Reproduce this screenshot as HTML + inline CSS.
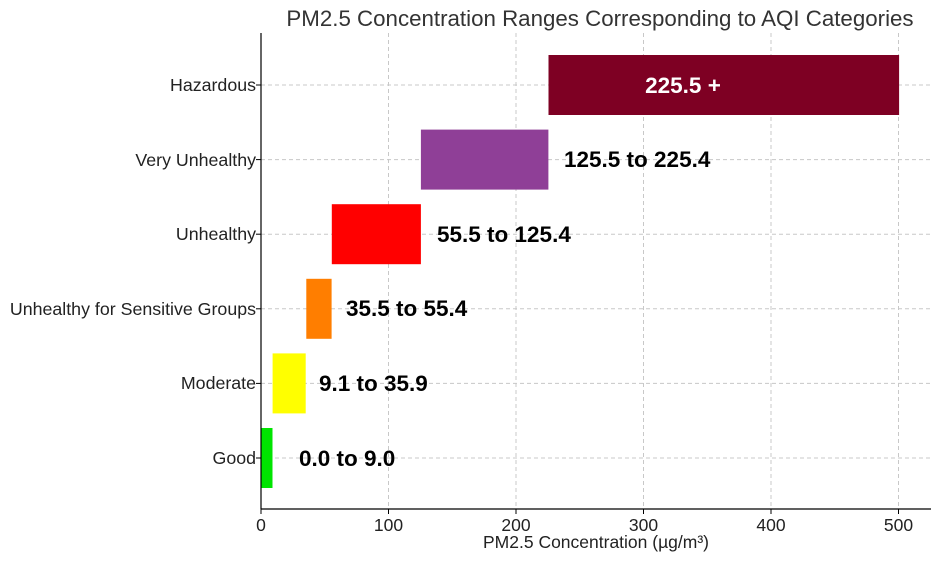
<!DOCTYPE html>
<html><head><meta charset="utf-8"><style>
body{margin:0;background:#fff;}
text{font-family:"Liberation Sans",sans-serif;}
</style></head><body>
<svg width="940" height="560" xmlns="http://www.w3.org/2000/svg">
<rect width="940" height="560" fill="#fff"/>
<g stroke="#c8c8c8" stroke-dasharray="4,3" stroke-width="1">
<line x1="388.5" y1="33" x2="388.5" y2="509"/>
<line x1="516" y1="33" x2="516" y2="509"/>
<line x1="643.5" y1="33" x2="643.5" y2="509"/>
<line x1="771" y1="33" x2="771" y2="509"/>
<line x1="898.5" y1="33" x2="898.5" y2="509"/>
<line x1="261" y1="458" x2="931" y2="458"/>
<line x1="261" y1="383.4" x2="931" y2="383.4"/>
<line x1="261" y1="308.8" x2="931" y2="308.8"/>
<line x1="261" y1="234.2" x2="931" y2="234.2"/>
<line x1="261" y1="159.6" x2="931" y2="159.6"/>
<line x1="261" y1="85" x2="931" y2="85"/>
</g>
<rect x="261" y="428" width="11.5" height="60" fill="#00e400"/>
<rect x="272.6" y="353.4" width="33.1" height="60" fill="#ffff00"/>
<rect x="306.3" y="278.8" width="25.3" height="60" fill="#ff7e00"/>
<rect x="331.8" y="204.2" width="89.1" height="60" fill="#ff0000"/>
<rect x="420.9" y="129.6" width="127.5" height="60" fill="#8f3f97"/>
<rect x="548.5" y="55" width="350.6" height="60" fill="#7e0023"/>
<g font-weight="bold" font-size="22.5">
<text x="299" y="466">0.0 to 9.0</text>
<text x="319" y="391">9.1 to 35.9</text>
<text x="346" y="316">35.5 to 55.4</text>
<text x="437" y="242">55.5 to 125.4</text>
<text x="564" y="167">125.5 to 225.4</text>
<text x="683" y="93" fill="#fff" text-anchor="middle">225.5 +</text>
</g>
<line x1="261" y1="33" x2="261" y2="509" stroke="#000" stroke-width="1.2"/>
<line x1="261" y1="509" x2="931" y2="509" stroke="#000" stroke-width="1.2"/>
<g stroke="#000">
<line x1="261" y1="509" x2="261" y2="514"/><line x1="388.5" y1="509" x2="388.5" y2="514"/>
<line x1="516" y1="509" x2="516" y2="514"/><line x1="643.5" y1="509" x2="643.5" y2="514"/>
<line x1="771" y1="509" x2="771" y2="514"/><line x1="898.5" y1="509" x2="898.5" y2="514"/>
<line x1="256" y1="458" x2="261" y2="458"/><line x1="256" y1="383.4" x2="261" y2="383.4"/>
<line x1="256" y1="308.8" x2="261" y2="308.8"/><line x1="256" y1="234.2" x2="261" y2="234.2"/>
<line x1="256" y1="159.6" x2="261" y2="159.6"/><line x1="256" y1="85" x2="261" y2="85"/>
</g>
<g font-size="17.5" fill="#222" text-anchor="middle">
<text x="261" y="531">0</text><text x="388.5" y="531">100</text><text x="516" y="531">200</text>
<text x="643.5" y="531">300</text><text x="771" y="531">400</text><text x="898.5" y="531">500</text>
<text x="596" y="548">PM2.5 Concentration (µg/m³)</text>
</g>
<g font-size="17.8" fill="#222" text-anchor="end">
<text x="256" y="464">Good</text>
<text x="256" y="389">Moderate</text>
<text x="256" y="315">Unhealthy for Sensitive Groups</text>
<text x="256" y="240">Unhealthy</text>
<text x="256" y="166">Very Unhealthy</text>
<text x="256" y="91">Hazardous</text>
</g>
<text x="600" y="26" font-size="22.3" fill="#333" text-anchor="middle">PM2.5 Concentration Ranges Corresponding to AQI Categories</text>
</svg>
</body></html>
